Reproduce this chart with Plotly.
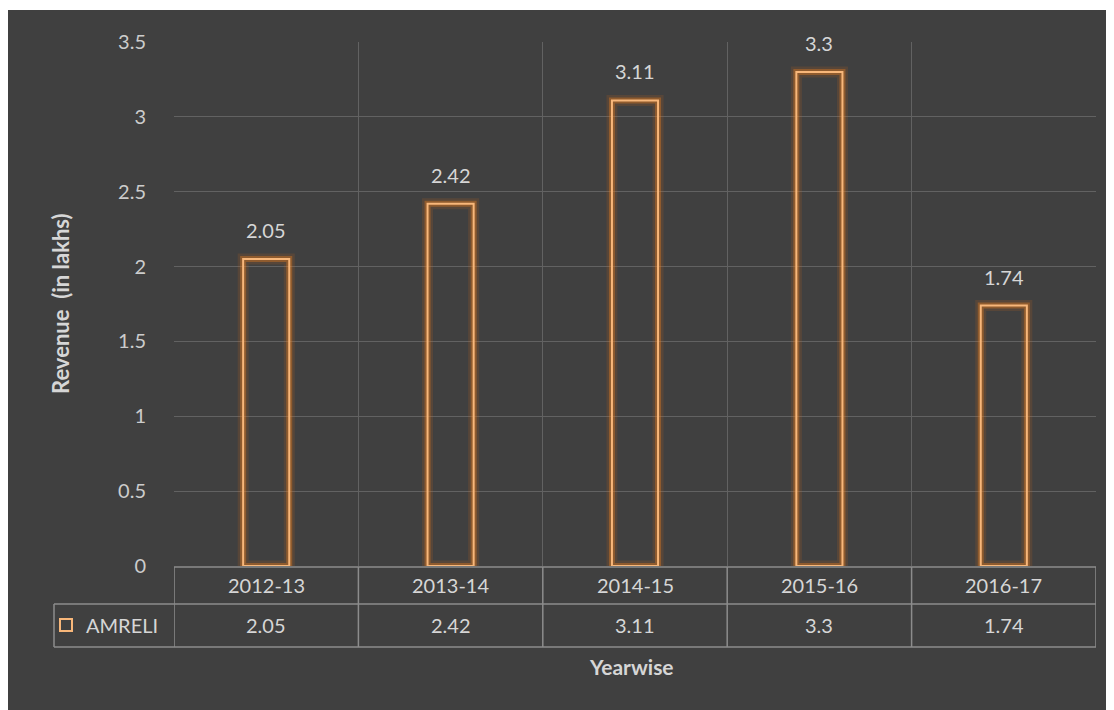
import plotly.graph_objects as go

categories = ["2012-13", "2013-14", "2014-15", "2015-16", "2016-17"]
values = [2.05, 2.42, 3.11, 3.3, 1.74]
series_name = "AMRELI"
y_ticks = [0, 0.5, 1, 1.5, 2, 2.5, 3, 3.5]
y_tick_labels = ["0", "0.5", "1", "1.5", "2", "2.5", "3", "3.5"]

# page has an 8px body margin, so the figure is offset by (8, 8)
OFF = 8
W, H = 1106, 702
L, R, T, B = 166, 18, 34, 144
pw, ph = W - L - R, H - T - B


def px_x(px):
    return (px - OFF - L) / pw


def px_y(py):
    return (H - B - (py - OFF)) / ph


DARK = "#404040"
GRID = "#626262"
TABLE = "#8c8c8c"
TEXT = "#d6d6d6"
FONT = "Lato, 'Open Sans', sans-serif"
FS = 20

fig = go.Figure()

# glow layers
for lw, col in [(11, "rgba(220,110,20,0.15)"), (6, "rgba(235,125,30,0.38)")]:
    fig.add_trace(go.Bar(
        x=categories, y=values, width=0.25,
        marker=dict(color="rgba(0,0,0,0)", line=dict(color=col, width=lw)),
        showlegend=False, hoverinfo="skip"))

fig.add_trace(go.Bar(
    x=categories, y=values, width=0.25, name=series_name,
    marker=dict(color="rgba(0,0,0,0)", line=dict(color="#f8b77a", width=2)),
    showlegend=True))

shapes = []
# dark panel
shapes.append(dict(type="rect", xref="paper", yref="paper",
                   x0=px_x(8), x1=px_x(1130), y0=px_y(730), y1=px_y(10),
                   fillcolor=DARK, line=dict(width=0), layer="below"))

y_top = px_y(567)
y_mid = px_y(604)
y_bot = px_y(647)
n = len(categories)
line_style = dict(color=TABLE, width=1.5)
# horizontal table lines
shapes.append(dict(type="line", xref="x", yref="paper", x0=-0.5, x1=n - 0.5,
                   y0=y_top, y1=y_top, line=line_style))
for yy in (y_mid, y_bot):
    shapes.append(dict(type="line", xref="paper", yref="paper", x0=px_x(54), x1=1,
                       y0=yy, y1=yy, line=line_style))
# vertical table lines at category boundaries
for i in range(n + 1):
    shapes.append(dict(type="line", xref="x", yref="paper", x0=i - 0.5, x1=i - 0.5,
                       y0=y_top, y1=y_bot, line=line_style))
shapes.append(dict(type="line", xref="paper", yref="paper", x0=px_x(54), x1=px_x(54),
                   y0=y_mid, y1=y_bot, line=line_style))

annotations = []
for c, v in zip(categories, values):
    annotations.append(dict(x=c, y=v, xref="x", yref="y", text=f"{v:g}",
                            showarrow=False, yanchor="bottom", yshift=15,
                            font=dict(size=FS, color=TEXT, family=FONT)))
    annotations.append(dict(x=c, y=px_y(585), xref="x", yref="paper", text=c,
                            showarrow=False, yanchor="middle",
                            font=dict(size=FS, color=TEXT, family=FONT)))
    annotations.append(dict(x=c, y=px_y(625), xref="x", yref="paper", text=f"{v:g}",
                            showarrow=False, yanchor="middle",
                            font=dict(size=FS, color=TEXT, family=FONT)))

annotations.append(dict(x=px_x(60), y=0.5, xref="paper", yref="paper",
                        text="<b>Revenue  (in lakhs)</b>", textangle=-90,
                        showarrow=False, xanchor="center", yanchor="middle",
                        font=dict(size=22, color=TEXT, family=FONT)))
annotations.append(dict(x=px_x(631), y=px_y(666), xref="paper", yref="paper",
                        text="<b>Yearwise</b>", showarrow=False,
                        xanchor="center", yanchor="middle",
                        font=dict(size=21, color=TEXT, family=FONT)))

fig.update_layout(
    width=W, height=H,
    margin=dict(l=L, r=R, t=T, b=B),
    paper_bgcolor="white",
    plot_bgcolor="rgba(0,0,0,0)",
    barmode="overlay",
    font=dict(family=FONT, color=TEXT),
    shapes=shapes,
    annotations=annotations,
    showlegend=True,
    legend=dict(x=px_x(46), y=px_y(625), xanchor="left", yanchor="middle",
                bgcolor="rgba(0,0,0,0)", font=dict(size=FS, color=TEXT, family=FONT),
                itemwidth=30),
    xaxis=dict(type="category", range=[-0.5, n - 0.5], tickson="boundaries",
               showgrid=True, gridcolor=GRID, gridwidth=1, showticklabels=False,
               ticks="", showline=False, zeroline=False, fixedrange=True),
    yaxis=dict(range=[0, 3.5], tickvals=y_ticks, ticktext=y_tick_labels,
               showgrid=True, gridcolor=GRID, gridwidth=1, zeroline=False,
               showline=False, ticks="", ticklabelstandoff=27,
               tickfont=dict(size=FS, color="#cccccc", family=FONT), fixedrange=True),
)

fig.write_html("out.html")
